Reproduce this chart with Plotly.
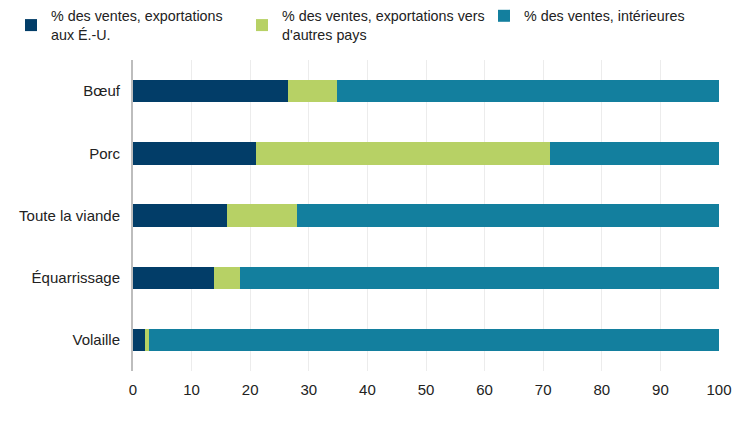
import plotly.graph_objects as go

categories = ["Bœuf", "Porc", "Toute la viande", "Équarrissage", "Volaille"]
us_exports = [26.5, 21.0, 16.1, 13.9, 2.0]
other_exports = [8.3, 50.2, 11.9, 4.4, 0.8]
domestic = [65.2, 28.8, 72.0, 81.7, 97.2]
series_names = [
    "% des ventes, exportations<br>aux É.-U.",
    "% des ventes, exportations vers<br>d'autres pays",
    "% des ventes, intérieures",
]
colors = ["#023d68", "#b7d165", "#137f9e"]
x_ticks = [0, 10, 20, 30, 40, 50, 60, 70, 80, 90, 100]

legend_ids = ["legend2", "legend3", "legend4"]
legend_x = [11 / 750, 242 / 750, 484 / 750]

fig = go.Figure()
for name, vals, col, lid in zip(series_names, [us_exports, other_exports, domestic], colors, legend_ids):
    fig.add_trace(go.Bar(
        y=categories, x=vals, name=name, orientation="h",
        marker=dict(color=col, line=dict(width=0)),
        hoverinfo="x+y", legend=lid, showlegend=True,
    ))

legend_common = dict(
    orientation="h", xref="container", yref="container",
    y=1.0, xanchor="left", yanchor="top",
    font=dict(size=14.3, color="#222222"), itemwidth=30,
    bgcolor="rgba(0,0,0,0)",
)

fig.update_layout(
    barmode="stack",
    bargap=0.64,
    width=750, height=422,
    showlegend=True,
    margin=dict(l=133, r=31, t=60, b=51, autoexpand=False),
    paper_bgcolor="white", plot_bgcolor="white",
    font=dict(family="Liberation Sans, Arial, sans-serif", size=15, color="#222222"),
    legend2=dict(x=legend_x[0], **legend_common),
    legend3=dict(x=legend_x[1], **legend_common),
    legend4=dict(x=legend_x[2], **legend_common),
    xaxis=dict(
        range=[0, 100], tickvals=x_ticks, showgrid=True, gridcolor="#ececec",
        gridwidth=1, zeroline=False, showline=False, ticks="",
        tickfont=dict(size=15), ticklabelstandoff=8,
    ),
    yaxis=dict(
        autorange="reversed", showline=True, linecolor="#bdbdbd", linewidth=2,
        ticks="", tickfont=dict(size=15), ticklabelstandoff=8, showgrid=False,
    ),
)

fig.write_html("out.html", config={"displayModeBar": False},
               post_script="document.body.style.margin='0';")
